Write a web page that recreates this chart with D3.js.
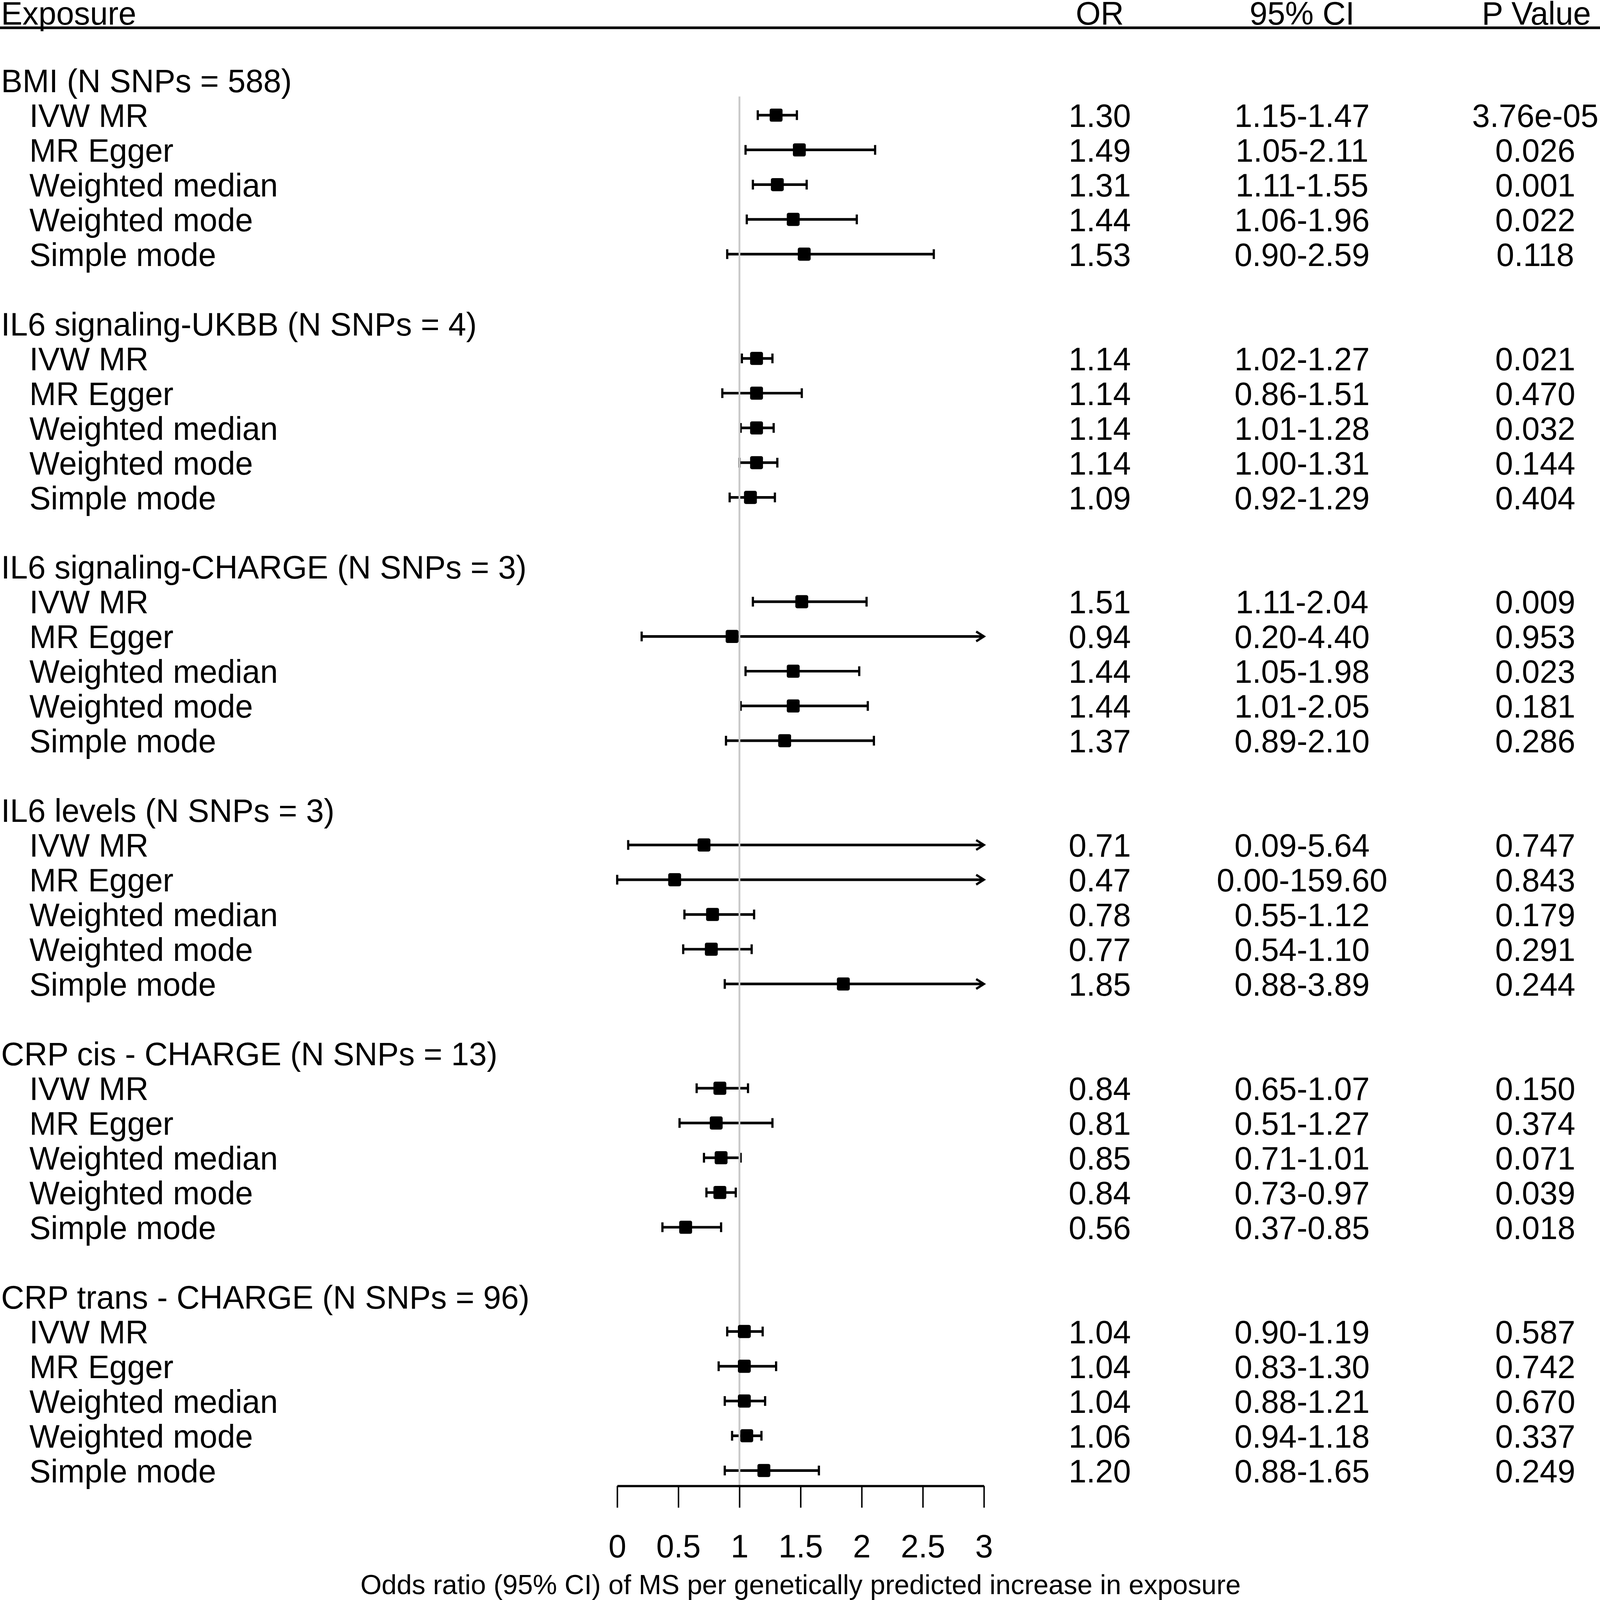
<!DOCTYPE html>
<html>
<head>
<meta charset="utf-8">
<script src="https://cdn.jsdelivr.net/npm/d3@7"></script>
<style>
  html, body { margin: 0; padding: 0; background: #fff; overflow: hidden; }
  svg { display: block; }
  text { font-family: "Liberation Sans", Arial, sans-serif; fill: #000; }
</style>
</head>
<body>
<div id="forest"></div>
<script>
// exposures (group headings) and MR methods
const exposures = [
  "BMI (N SNPs = 588)",
  "IL6 signaling-UKBB (N SNPs = 4)",
  "IL6 signaling-CHARGE (N SNPs = 3)",
  "IL6 levels (N SNPs = 3)",
  "CRP cis - CHARGE (N SNPs = 13)",
  "CRP trans - CHARGE (N SNPs = 96)"
];
const methods = ["IVW MR", "MR Egger", "Weighted median", "Weighted mode", "Simple mode"];

// one inner array per exposure, in method order
const orValues = [
  [1.30, 1.49, 1.31, 1.44, 1.53],
  [1.14, 1.14, 1.14, 1.14, 1.09],
  [1.51, 0.94, 1.44, 1.44, 1.37],
  [0.71, 0.47, 0.78, 0.77, 1.85],
  [0.84, 0.81, 0.85, 0.84, 0.56],
  [1.04, 1.04, 1.04, 1.06, 1.20]
];
const ciLower = [
  [1.15, 1.05, 1.11, 1.06, 0.90],
  [1.02, 0.86, 1.01, 1.00, 0.92],
  [1.11, 0.20, 1.05, 1.01, 0.89],
  [0.09, 0.00, 0.55, 0.54, 0.88],
  [0.65, 0.51, 0.71, 0.73, 0.37],
  [0.90, 0.83, 0.88, 0.94, 0.88]
];
const ciUpper = [
  [1.47, 2.11, 1.55, 1.96, 2.59],
  [1.27, 1.51, 1.28, 1.31, 1.29],
  [2.04, 4.40, 1.98, 2.05, 2.10],
  [5.64, 159.60, 1.12, 1.10, 3.89],
  [1.07, 1.27, 1.01, 0.97, 0.85],
  [1.19, 1.30, 1.21, 1.18, 1.65]
];
const pValues = [
  ["3.76e-05", "0.026", "0.001", "0.022", "0.118"],
  ["0.021", "0.470", "0.032", "0.144", "0.404"],
  ["0.009", "0.953", "0.023", "0.181", "0.286"],
  ["0.747", "0.843", "0.179", "0.291", "0.244"],
  ["0.150", "0.374", "0.071", "0.039", "0.018"],
  ["0.587", "0.742", "0.670", "0.337", "0.249"]
];
const tickValues = [0, 0.5, 1, 1.5, 2, 2.5, 3];
const headers = ["Exposure", "OR", "95% CI", "P Value"];
const axisTitle = "Odds ratio (95% CI) of MS per genetically predicted increase in exposure";

const width = 4350, height = 4263;
const fontSize = 87;

// drawing units stay 4350x4263, fitted to the viewport the browser gives us
const svg = d3.select("#forest").append("svg")
  .attr("width", window.innerWidth)
  .attr("height", window.innerHeight)
  .attr("viewBox", `0 0 ${width} ${height}`)
  .attr("preserveAspectRatio", "none");

// build row table: header row 0, blank row 1, then header + 5 methods + blank per exposure
const rows = [];
exposures.forEach((ex, g) => {
  const start = 2 + g * 7;
  rows.push({ row: start, type: "group", label: ex });
  methods.forEach((m, k) => {
    rows.push({
      row: start + 1 + k, type: "method", label: m,
      or: orValues[g][k], lo: ciLower[g][k], hi: ciUpper[g][k], p: pValues[g][k]
    });
  });
});
const lastRow = d3.max(rows, d => d.row);

const x = d3.scaleLinear().domain([0, 3]).range([1678, 2675]);
const y = d3.scaleLinear().domain([0, lastRow]).range([29, 3918]);
const axisY = 3959;
const colOR = 2990, colCI = 3540, colP = 4174;
const baseShift = 0.36 * fontSize;
const headBase = 66; // header baseline, kept just inside the top edge

// column headers
svg.append("text").attr("x", 3).attr("y", headBase)
  .attr("font-size", fontSize).text(headers[0]);
[[headers[1], colOR], [headers[2], colCI], [headers[3], 4177]].forEach(([t, cx]) => {
  svg.append("text").attr("x", cx).attr("y", headBase)
    .attr("text-anchor", "middle").attr("font-size", fontSize).text(t);
});
svg.append("line")
  .attr("x1", 0).attr("x2", width).attr("y1", 74).attr("y2", 74)
  .attr("stroke", "#000").attr("stroke-width", 7);

// row labels
svg.selectAll(".label")
  .data(rows)
  .enter().append("text")
  .attr("class", "label")
  .attr("x", d => d.type === "group" ? 3 : 80)
  .attr("y", d => y(d.row) + baseShift)
  .attr("font-size", fontSize)
  .text(d => d.label);

const est = rows.filter(d => d.type === "method");

// numeric columns
const cols = [
  [colOR, d => d.or.toFixed(2)],
  [colCI, d => d.lo.toFixed(2) + "-" + d.hi.toFixed(2)],
  [colP, d => d.p]
];
cols.forEach(([cx, fmt]) => {
  svg.append("g").selectAll("text")
    .data(est)
    .enter().append("text")
    .attr("x", cx)
    .attr("y", d => y(d.row) + baseShift)
    .attr("text-anchor", "middle")
    .attr("font-size", fontSize)
    .text(fmt);
});

// confidence intervals
const [xmin, xmax] = x.domain();
const capH = 13;
const ci = svg.append("g").attr("stroke", "#000").attr("fill", "none");
est.forEach(d => {
  const cy = y(d.row);
  const lo = Math.max(d.lo, xmin), hi = Math.min(d.hi, xmax);
  ci.append("line")
    .attr("x1", x(lo)).attr("x2", x(hi)).attr("y1", cy).attr("y2", cy)
    .attr("stroke-width", 7);
  // left cap
  ci.append("line")
    .attr("x1", x(lo)).attr("x2", x(lo)).attr("y1", cy - capH).attr("y2", cy + capH)
    .attr("stroke-width", 6);
  if (d.hi > xmax) {
    ci.append("path")
      .attr("d", `M${x(xmax) - 21},${cy - 13}L${x(xmax)},${cy}L${x(xmax) - 21},${cy + 13}`)
      .attr("stroke-width", 6);
  } else {
    ci.append("line")
      .attr("x1", x(hi)).attr("x2", x(hi)).attr("y1", cy - capH).attr("y2", cy + capH)
      .attr("stroke-width", 6);
  }
});

// reference line at OR = 1
svg.append("line")
  .attr("x1", x(1)).attr("x2", x(1))
  .attr("y1", 257).attr("y2", axisY)
  .attr("stroke", "#c8c8c8").attr("stroke-width", 5);

// point estimates
svg.append("g").selectAll("rect")
  .data(est)
  .enter().append("rect")
  .attr("x", d => x(d.or) - 17.5)
  .attr("y", d => y(d.row) - 17.5)
  .attr("width", 35).attr("height", 35)
  .attr("rx", 5)
  .attr("fill", "#000");

// x axis
const axis = svg.append("g")
  .attr("transform", `translate(0,${axisY})`)
  .call(d3.axisBottom(x)
    .tickValues(tickValues)
    .tickFormat(d3.format("~g"))
    .tickSize(58)
    .tickSizeOuter(0)
    .tickPadding(71));
axis.select(".domain").attr("stroke-width", 6).attr("stroke", "#000");
axis.selectAll(".tick line").attr("stroke-width", 4).attr("stroke", "#000");
axis.selectAll(".tick text")
  .attr("font-size", fontSize)
  .attr("font-family", "Liberation Sans, Arial, sans-serif")
  .attr("fill", "#000");

svg.append("text")
  .attr("x", (x.range()[0] + x.range()[1]) / 2)
  .attr("y", 4247)
  .attr("text-anchor", "middle")
  .attr("font-size", 74)
  .text(axisTitle);
</script>
</body>
</html>
